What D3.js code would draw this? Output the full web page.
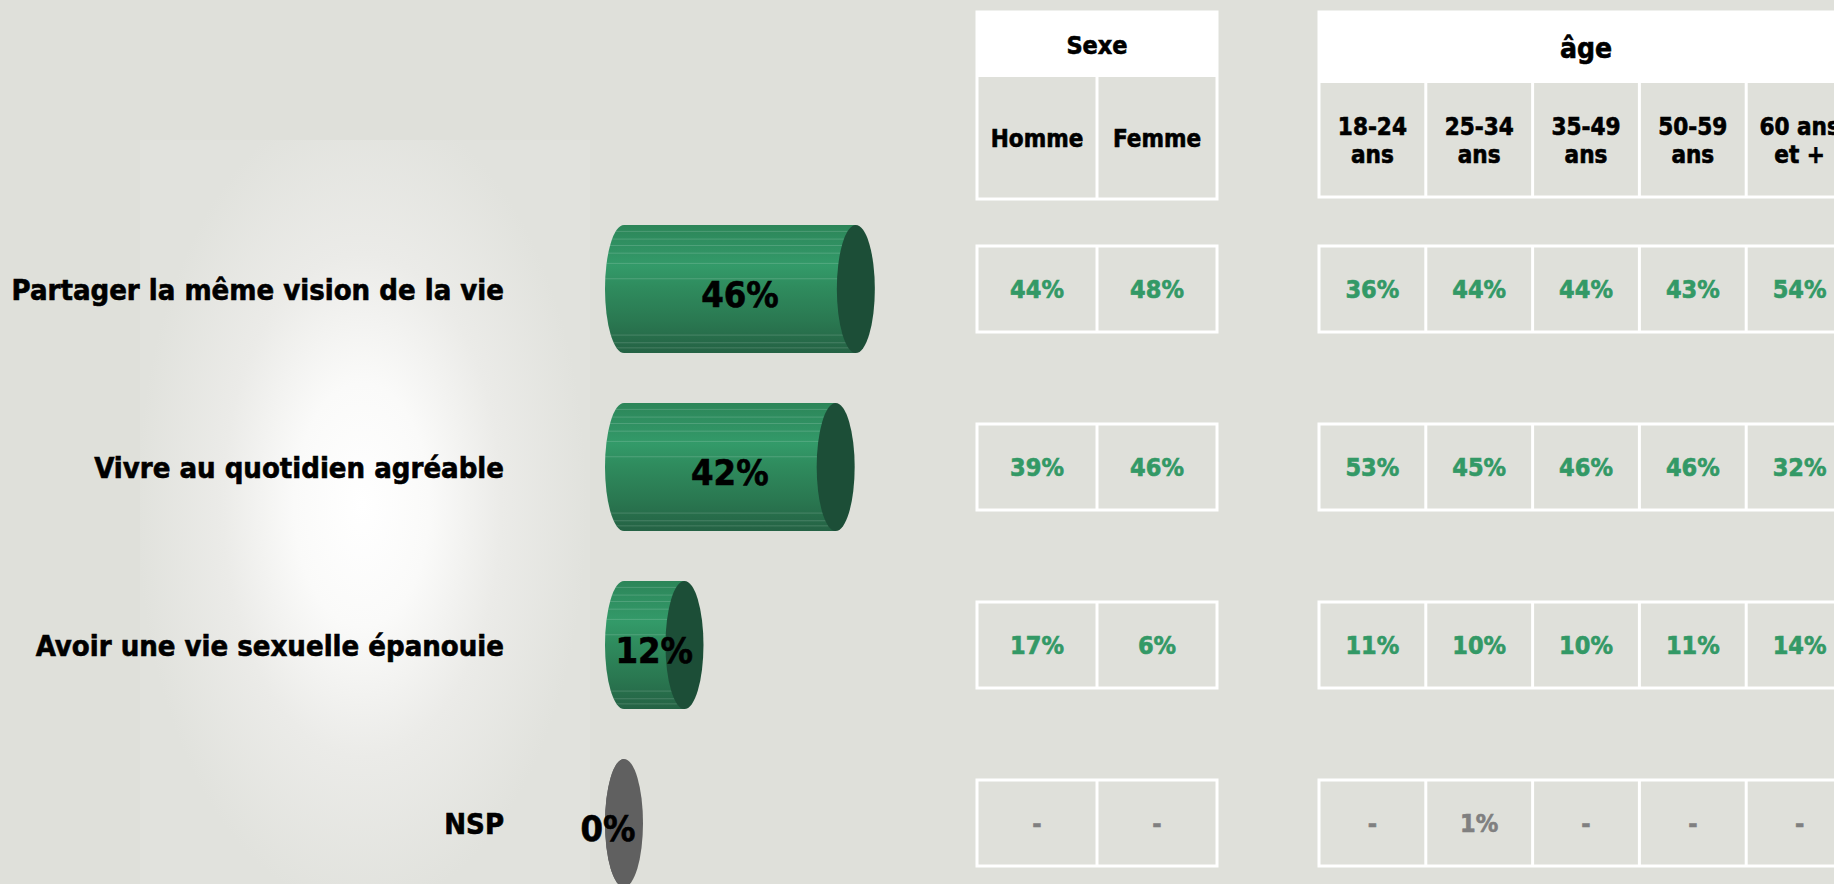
<!DOCTYPE html>
<html>
<head>
<meta charset="utf-8">
<script src="https://cdn.jsdelivr.net/npm/d3@7"></script>
<style>
  html, body { margin: 0; padding: 0; background: #dfe0da; overflow: hidden; }
  text { font-family: "DejaVu Sans Condensed", "DejaVu Sans", sans-serif; font-stretch: condensed; font-weight: bold; stroke-width: 0.6px; paint-order: stroke; }
</style>
</head>
<body>
<div id="chart"></div>
<script>
// data
const categories = ["Partager la même vision de la vie", "Vivre au quotidien agréable", "Avoir une vie sexuelle épanouie", "NSP"];
const totals = [46, 42, 12, 0];

const sexeTitle = "Sexe";
const sexeCols = ["Homme", "Femme"];
const sexeValues = [
	[44, 48],
	[39, 46],
	[17, 6],
	[null, null]
];

const ageTitle = "âge";
const ageCols = ["18-24 ans", "25-34 ans", "35-49 ans", "50-59 ans", "60 ans et +"];
const ageLines = [["18-24", "ans"], ["25-34", "ans"], ["35-49", "ans"], ["50-59", "ans"], ["60 ans", "et +"]];
const ageValues = [
	[36, 44, 44, 43, 54],
	[53, 45, 46, 46, 32],
	[11, 10, 10, 11, 14],
	[null, 1, null, null, null]
];

const width = 1834, height = 884;
const bg = "#dfe0da";
const green = "#339966", grey = "#808080";

let svg = d3.select("#chart")
	.append("svg")
		.attr("width", width)
		.attr("height", height);

let defs = svg.append("defs");

// soft white glow behind the labels, stretched vertically
let gcx = 362, gcy = 505;
let glow = defs.append("radialGradient").attr("id", "glow")
	.attr("gradientUnits", "userSpaceOnUse")
	.attr("cx", gcx).attr("cy", gcy).attr("r", 225)
	.attr("gradientTransform", `translate(${gcx},${gcy}) scale(1,1.8) translate(${-gcx},${-gcy})`);
glow.append("stop").attr("offset", "0%").attr("stop-color", "#ffffff");
glow.append("stop").attr("offset", "30%").attr("stop-color", "#fafaf9");
glow.append("stop").attr("offset", "62%").attr("stop-color", "#ebebe8");
glow.append("stop").attr("offset", "100%").attr("stop-color", "#e1e2dd");

// cylinder body shading
function bodyGradient(id, stops) {
	let gr = defs.append("linearGradient").attr("id", id)
		.attr("x1", 0).attr("y1", 0).attr("x2", 0).attr("y2", 1);
	stops.forEach(s => gr.append("stop").attr("offset", s[0]).attr("stop-color", s[1]));
}
bodyGradient("bodyGreen", [["0%", "#2c8558"], ["12%", "#2f8e60"], ["32%", "#339a69"], ["48%", "#2f8c5e"], ["75%", "#2a7851"], ["100%", "#246244"]]);
bodyGradient("bodyGrey", [["0%", "#6a6a6a"], ["100%", "#555555"]]);

svg.append("rect").attr("width", width).attr("height", height).attr("fill", bg);
svg.append("rect")
	.attr("x", 140).attr("y", 140).attr("width", 450).attr("height", 744)
	.attr("fill", "url(#glow)");

// scales
let x = d3.scaleLinear()
	.domain([0, 100])
	.range([624, 1128]);

let y = d3.scalePoint()
	.domain(categories)
	.range([289, 823]);

const rx = 19, ry = 64;
const stripes = [0.05, 0.11, 0.16, 0.22, 0.3, 0.42, 0.86, 0.92, 0.96];

// category labels
svg.selectAll(".cat")
	.data(categories)
	.enter()
	.append("text")
		.attr("class", "cat")
		.attr("x", 504)
		.attr("y", d => y(d) + 11)
		.attr("text-anchor", "end")
		.style("font-size", "29px")
		.attr("fill", "#000")
		.attr("stroke", "#000")
		.text(d => d);

// cylinders
let bars = svg.selectAll(".bar")
	.data(categories.map((c, i) => ({cat: c, v: totals[i], nsp: c === "NSP"})))
	.enter()
	.append("g")
		.attr("class", "bar");

bars.each(function(d) {
	let g = d3.select(this);
	let cy = y(d.cat), x0 = x(0), x1 = x(d.v);
	g.append("path")
		.attr("d", `M${x0},${cy - ry}L${x1},${cy - ry}L${x1},${cy + ry}L${x0},${cy + ry}A${rx},${ry} 0 0 1 ${x0},${cy - ry}Z`)
		.attr("fill", d.nsp ? "url(#bodyGrey)" : "url(#bodyGreen)");
	if (d.v > 0) {
		stripes.forEach(f => {
			let t = f * 2 - 1;
			let yy = cy - ry + f * 2 * ry;
			g.append("line")
				.attr("x1", x0 - rx * Math.sqrt(1 - t * t))
				.attr("x2", x1)
				.attr("y1", yy).attr("y2", yy)
				.attr("stroke", "#ffffff")
				.attr("stroke-opacity", 0.16)
				.attr("stroke-width", 1);
		});
	}
	g.append("ellipse")
		.attr("cx", x1).attr("cy", cy)
		.attr("rx", rx).attr("ry", ry)
		.attr("fill", d.nsp ? "#606060" : "#1c4e37");
	g.append("text")
		.attr("x", d.v > 0 ? (x0 + x1) / 2 : x0 - 16)
		.attr("y", cy + 18)
		.attr("text-anchor", "middle")
		.style("font-size", "36px")
		.attr("fill", "#000")
		.attr("stroke", "#000")
		.text(d.v + "%");
});

// crosstab blocks
function drawBlock(title, cols, labels, values, xs, titleBottom, headBottom, titleSize) {
	let g = svg.append("g");
	let [l, r] = xs.range();
	let top = 12;

	g.append("rect")
		.attr("x", l).attr("y", top).attr("width", r - l).attr("height", headBottom - top)
		.attr("fill", bg).attr("stroke", "#fff").attr("stroke-width", 3);
	g.append("rect")
		.attr("x", l).attr("y", top).attr("width", r - l).attr("height", titleBottom - top)
		.attr("fill", "#fff");
	g.append("text")
		.attr("x", (l + r) / 2)
		.attr("y", (top + titleBottom) / 2 + titleSize * 0.36)
		.attr("text-anchor", "middle")
		.style("font-size", titleSize + "px")
		.attr("fill", "#000")
		.attr("stroke", "#000")
		.text(title);

	g.selectAll(".hdiv")
		.data(cols.slice(1))
		.enter()
		.append("line")
			.attr("x1", d => xs(d)).attr("x2", d => xs(d))
			.attr("y1", titleBottom).attr("y2", headBottom)
			.attr("stroke", "#fff").attr("stroke-width", 3);

	let mid = (titleBottom + headBottom) / 2;
	cols.forEach((c, j) => {
		let lines = labels[j];
		let t = g.append("text")
			.attr("text-anchor", "middle")
			.style("font-size", "24px")
			.attr("fill", "#000")
			.attr("stroke", "#000");
		lines.forEach((s, k) => {
			t.append("tspan")
				.attr("x", xs(c) + xs.bandwidth() / 2)
				.attr("y", mid + 9 + (k - (lines.length - 1) / 2) * 28)
				.text(s);
		});
	});

	categories.forEach((cat, i) => {
		let cy = y(cat);
		g.append("rect")
			.attr("x", l).attr("y", cy - 43).attr("width", r - l).attr("height", 86)
			.attr("fill", "none").attr("stroke", "#fff").attr("stroke-width", 3);
		cols.slice(1).forEach(c => {
			g.append("line")
				.attr("x1", xs(c)).attr("x2", xs(c))
				.attr("y1", cy - 43).attr("y2", cy + 43)
				.attr("stroke", "#fff").attr("stroke-width", 3);
		});
		cols.forEach((c, j) => {
			let v = values[i][j];
			let col = cat === "NSP" ? grey : green;
			g.append("text")
				.attr("x", xs(c) + xs.bandwidth() / 2)
				.attr("y", cy + 9)
				.attr("text-anchor", "middle")
				.style("font-size", "25px")
				.attr("fill", col)
				.attr("stroke", col)
				.text(v == null ? "-" : v + "%");
		});
	});
}

let sexeX = d3.scaleBand().domain(sexeCols).range([977, 1217]);
let ageX = d3.scaleBand().domain(ageCols).range([1319, 1853]);

drawBlock(sexeTitle, sexeCols, sexeCols.map(c => [c]), sexeValues, sexeX, 77, 199, 25);
drawBlock(ageTitle, ageCols, ageLines, ageValues, ageX, 83, 197, 28);
</script>
</body>
</html>
